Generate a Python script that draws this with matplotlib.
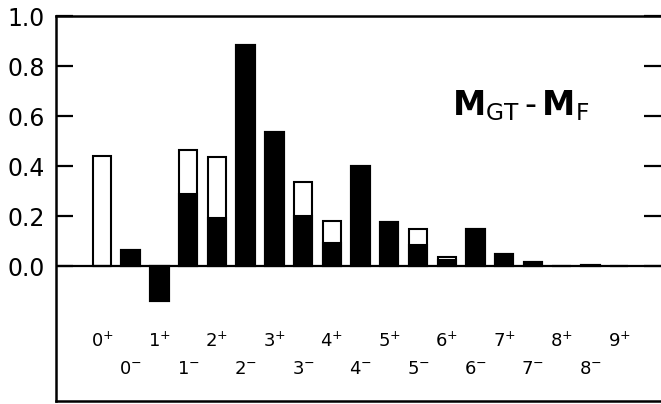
import numpy as np
from matplotlib import pyplot as plt

# spin-parity categories, in drawing order
spins = ["0", "0", "1", "1", "2", "2", "3", "3", "4", "4",
         "5", "5", "6", "6", "7", "7", "8", "8", "9"]
parities = ["+", "-", "+", "-", "+", "-", "+", "-", "+", "-",
            "+", "-", "+", "-", "+", "-", "+", "-", "+"]
# total height (white outline) and black part of each bar
total = [0.44, 0.064, -0.14, 0.464, 0.436, 0.884, 0.536, 0.336, 0.18, 0.40,
         0.176, 0.148, 0.036, 0.148, 0.048, 0.016, 0.0, 0.005, 0.0]
black = [0.0, 0.064, -0.14, 0.288, 0.192, 0.884, 0.536, 0.20, 0.092, 0.40,
         0.176, 0.084, 0.024, 0.148, 0.048, 0.016, 0.0, 0.005, 0.0]
yticks = [0.0, 0.2, 0.4, 0.6, 0.8, 1.0]

plt.rcParams['font.family'] = ['DejaVu Sans']
plt.rcParams['mathtext.fontset'] = 'dejavusans'

fig = plt.figure(figsize=(6.61, 4.04), dpi=100)
ax = fig.add_axes([56/661, 3/404, 605/661, 385/404])

x = np.arange(len(spins))
w = 0.64
ax.bar(x, total, width=w, color="white", edgecolor="black", linewidth=1.5, zorder=2)
ax.bar(x, black, width=w, color="black", edgecolor="black", linewidth=1.5, zorder=3)
ax.axhline(0, color="black", lw=1.6, zorder=4)

ax.set_xlim(-1.60, 19.46)
ax.set_ylim(-0.54, 1.0)
ax.set_xticks([])
ax.set_yticks(yticks)
ax.set_yticklabels(["%.1f" % v for v in yticks], fontsize=17)
ax.tick_params(axis="y", direction="in", length=12, width=1.6, pad=8,
               right=True, left=True)
for s in ax.spines.values():
    s.set_linewidth(1.8)
ax.spines["right"].set_visible(False)

# state labels under the bars, two staggered rows
for i in x:
    yl = -0.30 if parities[i] == "+" else -0.41
    sign = "+" if parities[i] == "+" else "-"
    ax.text(i, yl, spins[i] + "$^{" + sign + "}$", ha="center", va="center",
            fontsize=13)

ax.text(12.19, 0.604,
        r"$\mathbf{M}_{\mathrm{GT}}\,$-$\,\mathbf{M}_{\mathrm{F}}$",
        ha="left", va="baseline", fontsize=24)

fig.savefig("out.png", dpi=100)
